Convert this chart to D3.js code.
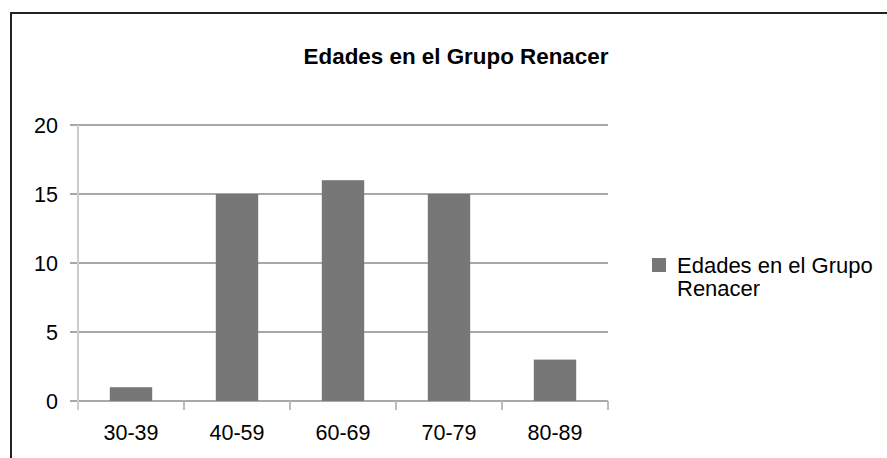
<!DOCTYPE html>
<html>
<head>
<meta charset="utf-8">
<script src="https://cdn.jsdelivr.net/npm/d3@7"></script>
<style>
  body { margin: 0; background: #fff; }
  text { font-family: "Liberation Sans", Arial, sans-serif; fill: #000; }
</style>
</head>
<body>
<svg id="chart"></svg>
<script>
var categories = ["30-39", "40-59", "60-69", "70-79", "80-89"];
var values = [1, 15, 16, 15, 3];
var yTicks = [0, 5, 10, 15, 20];
var title = "Edades en el Grupo Renacer";
var legendLines = ["Edades en el Grupo", "Renacer"];

var width = 887, height = 458;
var plot = { left: 78, right: 608, top: 125, bottom: 401 };

var svg = d3.select("#chart").attr("width", width).attr("height", height);

// frame (only top and left edges visible)
svg.append("path")
    .attr("d", "M11," + height + "V13H" + width)
    .attr("fill", "none")
    .attr("stroke", "#222")
    .attr("stroke-width", 2);

var x = d3.scaleBand()
    .domain(categories)
    .range([plot.left, plot.right])
    .paddingInner(0.6)
    .paddingOuter(0.3);

var y = d3.scaleLinear()
    .domain([0, 20])
    .range([plot.bottom, plot.top]);

// gridlines
svg.append("g")
    .selectAll("line")
    .data(yTicks)
    .enter().append("line")
    .attr("x1", plot.left - 8)
    .attr("x2", plot.right)
    .attr("y1", function(d) { return y(d); })
    .attr("y2", function(d) { return y(d); })
    .attr("stroke", "#a8a8a8")
    .attr("stroke-width", 2);

// y axis line
svg.append("line")
    .attr("x1", plot.left).attr("x2", plot.left)
    .attr("y1", plot.top).attr("y2", plot.bottom + 9)
    .attr("stroke", "#cccccc")
    .attr("stroke-width", 2);

// x ticks at band edges
var edges = categories.map(function(c) { return x(c) - x.step() * x.paddingOuter(); });
edges.push(plot.right);
svg.append("g")
    .selectAll("line")
    .data(edges.slice(1))
    .enter().append("line")
    .attr("x1", function(d) { return d; })
    .attr("x2", function(d) { return d; })
    .attr("y1", plot.bottom)
    .attr("y2", plot.bottom + 9)
    .attr("stroke", "#bbbbbb")
    .attr("stroke-width", 2);

// bars
svg.append("g")
    .selectAll("rect")
    .data(values)
    .enter().append("rect")
    .attr("x", function(d, i) { return x(categories[i]); })
    .attr("y", function(d) { return y(d); })
    .attr("width", x.bandwidth())
    .attr("height", function(d) { return y(0) - y(d); })
    .attr("fill", "#777777");

// y labels
svg.append("g")
    .selectAll("text")
    .data(yTicks)
    .enter().append("text")
    .attr("x", 58)
    .attr("y", function(d) { return y(d) + 7.5; })
    .attr("text-anchor", "end")
    .style("font-size", "21.5px")
    .text(function(d) { return d; });

// x labels
svg.append("g")
    .selectAll("text")
    .data(categories)
    .enter().append("text")
    .attr("x", function(d) { return x(d) + x.bandwidth() / 2; })
    .attr("y", 440)
    .attr("text-anchor", "middle")
    .style("font-size", "21.5px")
    .text(function(d) { return d; });

// title
svg.append("text")
    .attr("x", 456)
    .attr("y", 64)
    .attr("text-anchor", "middle")
    .style("font-size", "22.4px")
    .style("font-weight", "bold")
    .text(title);

// legend
svg.append("rect")
    .attr("x", 652).attr("y", 258)
    .attr("width", 14).attr("height", 14)
    .attr("fill", "#777777");

svg.append("g")
    .selectAll("text")
    .data(legendLines)
    .enter().append("text")
    .attr("x", 677)
    .attr("y", function(d, i) { return 273 + i * 23; })
    .style("font-size", "22px")
    .text(function(d) { return d; });
</script>
</body>
</html>
